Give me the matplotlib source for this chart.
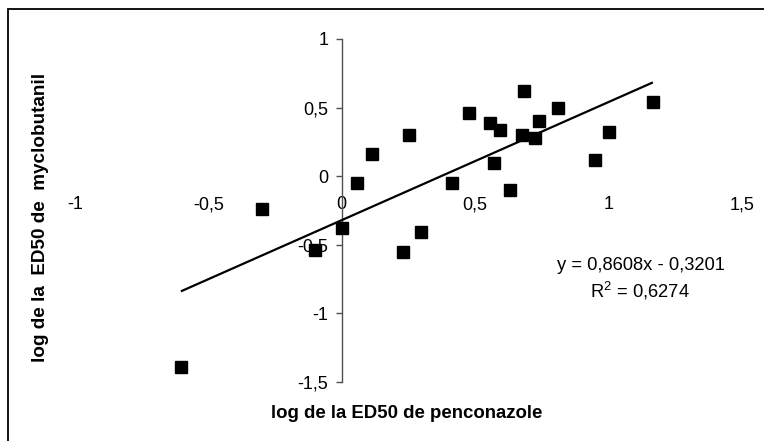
import matplotlib
matplotlib.use("Agg")
import matplotlib.pyplot as plt
from matplotlib.patches import Rectangle
from matplotlib.ticker import FixedLocator, FixedFormatter

plt.rcParams['font.family'] = ['Liberation Sans', 'DejaVu Sans']
plt.rcParams['mathtext.default'] = 'regular'

# Data
x_penconazole = [-0.603, -0.300, -0.099, 0.002, 0.057, 0.113, 0.252, 0.229, 0.298,
                 0.413, 0.477, 0.556, 0.592, 0.572, 0.629, 0.682, 0.676, 0.724,
                 0.739, 0.810, 0.949, 1.002, 1.166]
y_myclobutanil = [-1.393, -0.240, -0.536, -0.381, -0.051, 0.160, 0.299, -0.549, -0.408,
                  -0.049, 0.459, 0.386, 0.335, 0.095, -0.100, 0.621, 0.303, 0.279,
                  0.405, 0.495, 0.117, 0.320, 0.541]
slope = 0.8608
intercept = -0.3201
r2 = 0.6274

x_ticks = [-1, -0.5, 0, 0.5, 1, 1.5]
x_ticklabels = ["-1", "-0,5", "0", "0,5", "1", "1,5"]
y_ticks = [-1.5, -1, -0.5, 0, 0.5, 1]
y_ticklabels = ["-1,5", "-1", "-0,5", "0", "0,5", "1"]

W, H = 764, 441
fig = plt.figure(figsize=(W / 100, H / 100), dpi=100)
ax = fig.add_axes([75 / W, 1 - 382 / H, 667 / W, 343 / H])
ax.set_xlim(-1, 1.5)
ax.set_ylim(-1.5, 1)
ax.patch.set_visible(False)

for s in ['top', 'right']:
    ax.spines[s].set_visible(False)
ax.spines['left'].set_position(('data', 0))
ax.spines['left'].set_color('#505050')
ax.spines['left'].set_linewidth(1.0)
ax.spines['bottom'].set_position(('data', 0))
ax.spines['bottom'].set_visible(False)

ax.xaxis.set_major_locator(FixedLocator(x_ticks))
ax.xaxis.set_major_formatter(FixedFormatter(x_ticklabels))
ax.yaxis.set_major_locator(FixedLocator(y_ticks))
ax.yaxis.set_major_formatter(FixedFormatter(y_ticklabels))
ax.tick_params(axis='x', length=0, pad=14.5, labelsize=13, colors='black')
ax.tick_params(axis='y', direction='out', length=4.3, width=1.0, color='#505050',
               pad=5.5, labelsize=13, labelcolor='black')
for t, v in zip(ax.yaxis.get_major_ticks(), y_ticks):
    if v == 0:
        t.tick1line.set_color('#d0d0d0')

# Trend line across data range
xmin, xmax = min(x_penconazole), max(x_penconazole)
ax.plot([xmin, xmax], [slope * xmin + intercept, slope * xmax + intercept],
        color='black', lw=1.6, zorder=3, solid_capstyle='butt')
ax.plot(x_penconazole, y_myclobutanil, linestyle='none', marker='s', markersize=8.6,
        color='black', zorder=4)

fig.text(641 / W, 1 - 265 / H, "y = 0,8608x - 0,3201", ha='center', va='center',
         fontsize=13.2)
fig.text(640 / W, 1 - 291 / H, "R$^{2}$ = 0,6274", ha='center', va='center',
         fontsize=13.2)

fig.text(407 / W, 1 - 413 / H, "log de la ED50 de penconazole", ha='center',
         va='center', fontsize=13.4, fontweight='bold')
fig.text(41 / W, 1 - 217 / H, "log de la  ED50 de  myclobutanil", ha='center',
         va='center', fontsize=13.6, fontweight='bold', rotation=90)

fig.patches.append(Rectangle((8 / W, -0.05), 1.0, 1 - 9 / H + 0.05, fill=False,
                             edgecolor='black', lw=1.3, transform=fig.transFigure,
                             figure=fig))

fig.savefig("out.png", dpi=100)
